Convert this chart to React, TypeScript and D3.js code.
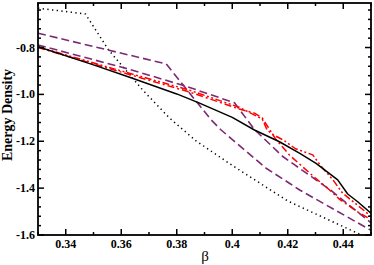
import React from "react";
import * as d3 from "d3";

const xTicksMajor = [0.34, 0.36, 0.38, 0.4, 0.42, 0.44];
const xTickLabels = ["0.34", "0.36", "0.38", "0.4", "0.42", "0.44"];
const xTicksMinor = [0.33, 0.35, 0.37, 0.39, 0.41, 0.43, 0.45];
const yTicksMajor = [-1.6, -1.4, -1.2, -1.0, -0.8];
const yTickLabels = ["-1.6", "-1.4", "-1.2", "-1.0", "-0.8"];
const yTicksMinor = [-1.56, -1.52, -1.48, -1.44, -1.36, -1.32, -1.28, -1.24, -1.16, -1.12, -1.08, -1.04, -0.96, -0.92, -0.88, -0.84, -0.76, -0.72, -0.68, -0.64];

const solidBeta = [0.33, 0.35, 0.363, 0.38, 0.388, 0.4, 0.408, 0.417, 0.4242, 0.4302, 0.438, 0.4416, 0.4452, 0.45];
const solidE = [-0.797, -0.874, -0.927, -0.998, -1.036, -1.098, -1.152, -1.202, -1.251, -1.294, -1.365, -1.425, -1.458, -1.507];

const dottedBeta = [0.33, 0.3471, 0.3554, 0.3677, 0.3774, 0.387, 0.4, 0.42, 0.4458, 0.45];
const dottedE = [-0.632, -0.657, -0.81, -0.981, -1.101, -1.199, -1.303, -1.455, -1.596, -1.618];

const purpleABeta = [0.33, 0.3762, 0.3924, 0.396, 0.4122, 0.4206, 0.4243, 0.45];
const purpleAE = [-0.739, -0.87, -1.109, -1.152, -1.315, -1.379, -1.408, -1.58];

const purpleBBeta = [0.33, 0.363, 0.384, 0.4008, 0.408, 0.4182, 0.4224, 0.4356, 0.45];
const purpleBE = [-0.789, -0.893, -0.968, -1.036, -1.15, -1.265, -1.3, -1.41, -1.548];

const redDBeta = [0.33, 0.36, 0.3846, 0.4025, 0.408, 0.4108, 0.4156, 0.4207, 0.4291, 0.4351, 0.4387, 0.445, 0.45];
const redDE = [-0.8, -0.905, -0.99, -1.062, -1.08, -1.1, -1.19, -1.26, -1.348, -1.408, -1.448, -1.5, -1.534];

const redCBeta = [0.33, 0.36, 0.3846, 0.4025, 0.4108, 0.4126, 0.415, 0.4186, 0.4228, 0.429, 0.4321, 0.4363, 0.4398, 0.4429, 0.45];
const redCE = [-0.797, -0.9, -0.982, -1.055, -1.105, -1.153, -1.174, -1.196, -1.232, -1.258, -1.308, -1.365, -1.422, -1.451, -1.52];

const PURPLE = "#7b2a72";
const RED = "#ff0000";

export default function App() {
  const W = 374, H = 265;
  const L = 38, R = 371, T = 3, B = 235;
  const x = d3.scaleLinear().domain([0.33, 0.45]).range([L, R]);
  const y = d3.scaleLinear().domain([-1.6, -0.61]).range([B, T]);
  const line = d3.line<[number, number]>().x(d => x(d[0])).y(d => y(d[1]));
  const mk = (bs: number[], es: number[]) => line(bs.map((b, i) => [b, es[i]] as [number, number])) || "";

  const series = [
    { b: dottedBeta, e: dottedE, color: "#000", dash: "1.3,3.4", w: 1.5, cap: "butt" },
    { b: purpleABeta, e: purpleAE, color: PURPLE, dash: "8,4", w: 1.6, cap: "butt" },
    { b: purpleBBeta, e: purpleBE, color: PURPLE, dash: "8,4", w: 1.6, cap: "butt" },
    { b: redDBeta, e: redDE, color: RED, dash: "7,3,2,3", w: 1.5, cap: "butt" },
    { b: redCBeta, e: redCE, color: RED, dash: "7,2.5,2,2.5,2,2.5", w: 1.5, cap: "butt" },
    { b: solidBeta, e: solidE, color: "#000", dash: "", w: 1.5, cap: "butt" },
  ];

  const fontTick = { fontFamily: "'Liberation Serif', 'Times New Roman', serif", fontWeight: 700, fontSize: 12 } as const;

  return (
    <svg width={W} height={H} style={{ position: "absolute", left: 0, top: 0, background: "#fff" }}>
      <defs>
        <clipPath id="plot">
          <rect x={L} y={T} width={R - L} height={B - T} />
        </clipPath>
      </defs>
      <g clipPath="url(#plot)">
        {series.map((s, i) => (
          <path key={i} d={mk(s.b, s.e)} fill="none" stroke={s.color} strokeWidth={s.w}
            strokeDasharray={s.dash || undefined} strokeLinecap={s.cap as any} strokeLinejoin="round" />
        ))}
      </g>
      <g stroke="#000" strokeWidth={1.5}>
        {xTicksMajor.map((t, i) => (
          <g key={"xm" + i}>
            <line x1={x(t)} x2={x(t)} y1={B} y2={B - 6} />
            <line x1={x(t)} x2={x(t)} y1={T} y2={T + 6} />
          </g>
        ))}
        {xTicksMinor.map((t, i) => (
          <g key={"xn" + i}>
            <line x1={x(t)} x2={x(t)} y1={B} y2={B - 3} />
            <line x1={x(t)} x2={x(t)} y1={T} y2={T + 3} />
          </g>
        ))}
        {yTicksMajor.map((t, i) => (
          <g key={"ym" + i}>
            <line x1={L} x2={L + 6} y1={y(t)} y2={y(t)} />
            <line x1={R} x2={R - 6} y1={y(t)} y2={y(t)} />
          </g>
        ))}
        {yTicksMinor.map((t, i) => (
          <g key={"yn" + i}>
            <line x1={L} x2={L + 3} y1={y(t)} y2={y(t)} />
            <line x1={R} x2={R - 3} y1={y(t)} y2={y(t)} />
          </g>
        ))}
      </g>
      <rect x={L} y={T} width={R - L} height={B - T} fill="none" stroke="#000" strokeWidth={1.8} />
      {xTicksMajor.map((t, i) => (
        <text key={"xl" + i} x={x(t)} y={B + 13} textAnchor="middle" style={fontTick}>{xTickLabels[i]}</text>
      ))}
      {yTicksMajor.map((t, i) => (
        <text key={"yl" + i} x={L - 3} y={y(t) + 4} textAnchor="end" style={fontTick}>{yTickLabels[i]}</text>
      ))}
      <text x={205} y={261} textAnchor="middle"
        style={{ fontFamily: "'Liberation Serif', serif", fontSize: 15 }}>β</text>
      <text transform={`translate(${12},${115}) rotate(-90)`} textAnchor="middle"
        style={{ fontFamily: "'Liberation Serif', serif", fontWeight: 700, fontSize: 14 }}>Energy Density</text>
    </svg>
  );
}
